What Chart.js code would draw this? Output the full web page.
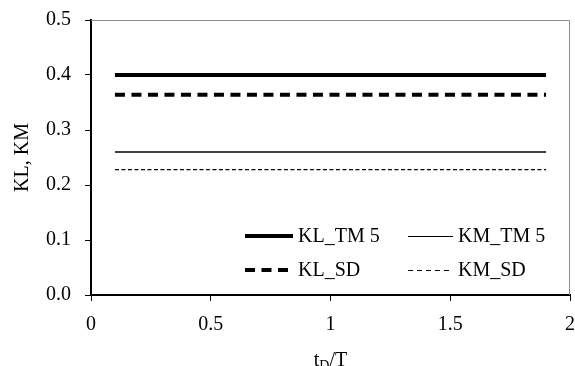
<!DOCTYPE html>
<html>
<head>
<meta charset="utf-8">
<script src="https://cdn.jsdelivr.net/npm/chart.js@4.4.0/dist/chart.umd.min.js"></script>
<style>
  html, body { margin: 0; padding: 0; background: #fff; }
  #wrap { width: 575px; height: 366px; }
</style>
</head>
<body>
<div id="wrap"><canvas id="chart" width="575" height="366"></canvas></div>
<script>
// dados
const tdT = [0.1, 0.2, 0.3, 0.4, 0.5, 0.6, 0.7, 0.8, 0.9, 1.0, 1.1, 1.2, 1.3, 1.4, 1.5, 1.6, 1.7, 1.8, 1.9];
const klTm5 = [0.40, 0.40, 0.40, 0.40, 0.40, 0.40, 0.40, 0.40, 0.40, 0.40, 0.40, 0.40, 0.40, 0.40, 0.40, 0.40, 0.40, 0.40, 0.40];
const klSd  = [0.364, 0.364, 0.364, 0.364, 0.364, 0.364, 0.364, 0.364, 0.364, 0.364, 0.364, 0.364, 0.364, 0.364, 0.364, 0.364, 0.364, 0.364, 0.364];
const kmTm5 = [0.26, 0.26, 0.26, 0.26, 0.26, 0.26, 0.26, 0.26, 0.26, 0.26, 0.26, 0.26, 0.26, 0.26, 0.26, 0.26, 0.26, 0.26, 0.26];
const kmSd  = [0.228, 0.228, 0.228, 0.228, 0.228, 0.228, 0.228, 0.228, 0.228, 0.228, 0.228, 0.228, 0.228, 0.228, 0.228, 0.228, 0.228, 0.228, 0.228];
const seriesNames = ['KL_TM 5', 'KL_SD', 'KM_TM 5', 'KM_SD'];
const xTicks = [0, 0.5, 1, 1.5, 2];
const yTicks = [0, 0.1, 0.2, 0.3, 0.4, 0.5];

const FONT = "'Liberation Serif', 'Times New Roman', serif";
const FS = 20;

function pts(ys) { return tdT.map((x, i) => ({ x: x, y: ys[i] })); }

function ds(label, ys, width, dash, legendDash) {
    return {
        label: label,
        data: pts(ys),
        borderColor: '#000',
        borderWidth: width,
        borderDash: dash,
        legendDash: legendDash || dash,
        borderCapStyle: 'butt',
        pointRadius: 0,
        fill: false,
        tension: 0
    };
}

// legenda e títulos desenhados à mão
const extras = {
    id: 'extras',
    afterDraw(chart) {
        const ctx = chart.ctx;
        const a = chart.chartArea;
        ctx.save();
        // moldura cinza (topo e direita)
        ctx.strokeStyle = '#8c8c8c';
        ctx.lineWidth = 1;
        ctx.beginPath();
        ctx.moveTo(a.left, a.top + 0.5);
        ctx.lineTo(a.right - 0.5, a.top + 0.5);
        ctx.lineTo(a.right - 0.5, a.bottom);
        ctx.stroke();

        // legenda
        const cols = [{ x: 245, w: 48 }, { x: 408, w: 45 }];
        const rows = [236, 270];
        const order = [[0, 2], [1, 3]];
        ctx.font = FS + 'px ' + FONT;
        ctx.fillStyle = '#000';
        ctx.textBaseline = 'middle';
        order.forEach((r, ri) => {
            r.forEach((di, ci) => {
                const d = chart.data.datasets[di];
                const c = cols[ci];
                const y = rows[ri] + (d.borderWidth < 2 ? 0.5 : 0);
                ctx.strokeStyle = '#000';
                ctx.lineWidth = d.borderWidth < 2 ? 1 : d.borderWidth;
                ctx.setLineDash(d.legendDash || []);
                ctx.beginPath();
                ctx.moveTo(c.x, y);
                ctx.lineTo(c.x + c.w, y);
                ctx.stroke();
                ctx.setLineDash([]);
                ctx.fillText(d.label, c.x + c.w + 5, rows[ri] + 1);
            });
        });

        // título eixo y
        ctx.save();
        ctx.translate(23, (a.top + a.bottom) / 2);
        ctx.rotate(-Math.PI / 2);
        ctx.textAlign = 'center';
        ctx.textBaseline = 'middle';
        ctx.font = FS + 'px ' + FONT;
        ctx.fillText('KL, KM', 0, 0);
        ctx.restore();

        // título eixo x: tD/T
        const cx = (a.left + a.right) / 2;
        const base = 366;
        ctx.textAlign = 'left';
        ctx.textBaseline = 'alphabetic';
        ctx.font = FS + 'px ' + FONT;
        const wT = ctx.measureText('t').width;
        ctx.font = '14px ' + FONT;
        const wD = ctx.measureText('D').width;
        ctx.font = FS + 'px ' + FONT;
        const wR = ctx.measureText('/T').width;
        let x = cx - (wT + wD + wR) / 2;
        ctx.fillText('t', x, base);
        x += wT;
        ctx.font = '14px ' + FONT;
        ctx.fillText('D', x, base + 4);
        x += wD;
        ctx.font = FS + 'px ' + FONT;
        ctx.fillText('/T', x, base);
        ctx.restore();
    }
};

new Chart(document.getElementById('chart'), {
    type: 'line',
    data: {
        datasets: [
            ds(seriesNames[0], klTm5, 4, []),
            ds(seriesNames[1], klSd, 4, [10, 6.5]),
            ds(seriesNames[2], kmTm5, 1.5, []),
            ds(seriesNames[3], kmSd, 1.2, [4, 2.5], [5, 4])
        ]
    },
    options: {
        responsive: false,
        animation: false,
        layout: { padding: { left: 0, top: 20, right: 5, bottom: 0 } },
        plugins: { legend: { display: false }, tooltip: { enabled: false } },
        scales: {
            x: {
                type: 'linear',
                min: 0, max: 2,
                afterFit(s) { s.height = 71; s.paddingLeft = 0; s.paddingRight = 0; },
                afterBuildTicks(s) { s.ticks = xTicks.map(v => ({ value: v })); },
                border: { color: '#000', width: 2 },
                grid: { drawOnChartArea: false, color: '#000', tickLength: 6, lineWidth: 1 },
                ticks: {
                    color: '#000', font: { family: FONT, size: FS }, padding: 12, maxRotation: 0,
                    callback: v => String(v)
                }
            },
            y: {
                min: 0, max: 0.5,
                afterFit(s) { s.width = 91; s.paddingTop = 0; s.paddingBottom = 0; },
                afterBuildTicks(s) { s.ticks = yTicks.map(v => ({ value: v })); },
                border: { color: '#000', width: 2 },
                grid: { drawOnChartArea: false, color: '#000', tickLength: 6, lineWidth: 1 },
                ticks: {
                    color: '#000', font: { family: FONT, size: FS }, padding: 14,
                    callback: v => Number(v).toFixed(1)
                }
            }
        }
    },
    plugins: [extras]
});
</script>
</body>
</html>
